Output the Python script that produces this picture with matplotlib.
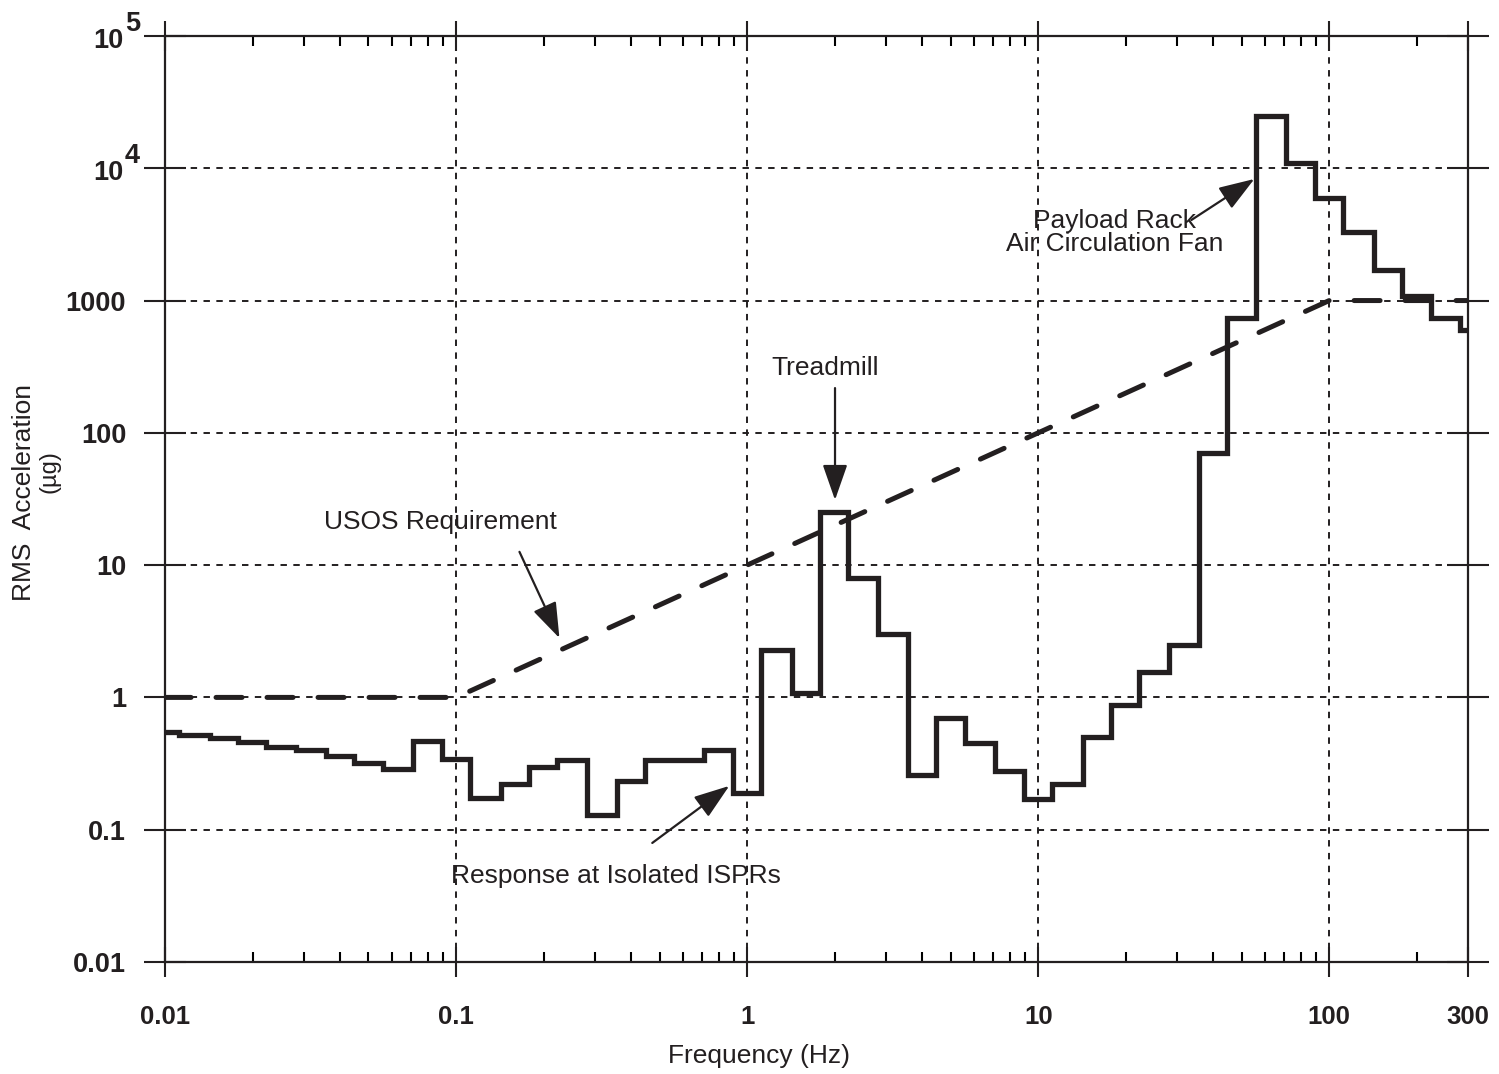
import numpy as np
import matplotlib
matplotlib.use('Agg')
import matplotlib.pyplot as plt
import matplotlib.transforms as mtransforms
from matplotlib.ticker import FixedLocator, LogLocator, NullFormatter, NullLocator

plt.rcParams['font.family'] = ['Liberation Sans', 'DejaVu Sans']

INK = '#231f20'

# one-third octave band centre frequencies (Hz)
band_centers = [0.01, 0.0125, 0.016, 0.02, 0.025, 0.0315, 0.04, 0.05, 0.063, 0.08,
                0.1, 0.125, 0.16, 0.2, 0.25, 0.315, 0.4, 0.5, 0.63, 0.8,
                1, 1.25, 1.6, 2, 2.5, 3.15, 4, 5, 6.3, 8,
                10, 12.5, 16, 20, 25, 31.5, 40, 50, 63, 80,
                100, 125, 160, 200, 250, 315]
# RMS response at isolated ISPRs (micro-g)
isolated_rms = [0.55, 0.52, 0.49, 0.46, 0.42, 0.40, 0.36, 0.32, 0.29, 0.47,
                0.34, 0.175, 0.22, 0.30, 0.335, 0.13, 0.235, 0.335, 0.335, 0.40,
                0.19, 2.3, 1.08, 25, 8.0, 3.0, 0.26, 0.70, 0.45, 0.28,
                0.17, 0.22, 0.50, 0.87, 1.55, 2.5, 70, 740, 25000, 11000,
                6000, 3300, 1700, 1080, 740, 600]

# USOS requirement curve
req_freq = [0.01, 0.1, 100, 300]
req_level = [1, 1, 1000, 1000]

xtick_vals = [0.01, 0.1, 1, 10, 100, 300]
xtick_labels = ['0.01', '0.1', '1', '10', '100', '300']
ytick_vals = [0.01, 0.1, 1, 10, 100, 1000, 1e4, 1e5]
ytick_labels = ['0.01', '0.1', '1', '10', '100', '1000', '', '']
power_ticks = [(1e4, '4'), (1e5, '5')]

centers = np.array(band_centers)
half = 10 ** 0.05
edges = np.append(centers / half, centers[-1] * half)

fig = plt.figure(figsize=(14.99, 10.74), dpi=100)
ax = fig.add_axes([0.1101, 0.1043, 0.8693, 0.8622])
ax.set_xscale('log')
ax.set_yscale('log')
ax.set_xlim(0.01, 300)
ax.set_ylim(0.01, 1e5)

ax.grid(True, which='major', color=INK, lw=1.4, linestyle=(0, (3.3, 3.3)), zorder=1)

ax.stairs(isolated_rms, edges, baseline=None, color=INK, lw=3.8, zorder=3)
ax.plot(req_freq, req_level, color=INK, lw=3.6, linestyle=(0, (5.2, 5.0)),
        dash_capstyle='round', zorder=3)

ax.xaxis.set_major_locator(FixedLocator(xtick_vals))
ax.set_xticklabels(xtick_labels)
ax.xaxis.set_minor_locator(LogLocator(base=10, subs=np.arange(2, 10), numticks=20))
ax.xaxis.set_minor_formatter(NullFormatter())
ax.yaxis.set_major_locator(FixedLocator(ytick_vals))
ax.set_yticklabels(ytick_labels)
ax.yaxis.set_minor_locator(NullLocator())

ax.tick_params(axis='x', which='major', direction='inout', length=22, width=1.5,
               top=True, bottom=True, pad=20, labelsize=18.5, colors=INK)
ax.tick_params(axis='x', which='minor', direction='in', length=7, width=1.5,
               top=True, bottom=True)
ax.tick_params(axis='y', which='major', direction='inout', length=30, width=1.5,
               left=True, right=True, pad=13, labelsize=19.5, colors=INK)
for lab in ax.get_xticklabels() + ax.get_yticklabels():
    lab.set_fontweight('bold')
for sp in ax.spines.values():
    sp.set_linewidth(1.6)
    sp.set_color(INK)

# 10^4 and 10^5 labels with a full-size raised exponent
ytrans = ax.get_yaxis_transform()
for val, exp in power_ticks:
    base_tr = mtransforms.offset_copy(ytrans, fig=fig, x=-42, y=-12, units='dots')
    ax.text(0, val, '10', transform=base_tr, ha='right', va='baseline',
            fontsize=19.5, fontweight='bold', color=INK, clip_on=False)
    exp_tr = mtransforms.offset_copy(ytrans, fig=fig, x=-40, y=5, units='dots')
    ax.text(0, val, exp, transform=exp_tr, ha='left', va='baseline',
            fontsize=19.5, fontweight='bold', color=INK, clip_on=False)

arrow = dict(arrowstyle='-|>,head_length=1.0,head_width=0.35', color=INK, lw=1.6,
             mutation_scale=22, shrinkA=0, shrinkB=0)
ax.text(0.0885, 21.2, 'USOS Requirement', fontsize=19, color=INK, ha='center', va='center')
ax.annotate('', xy=(0.2265, 2.81), xytext=(0.1651, 12.6), arrowprops=arrow)

ax.text(1.852, 309, 'Treadmill', fontsize=19, color=INK, ha='center', va='center')
ax.annotate('', xy=(2.004, 31.1), xytext=(2.004, 218), arrowprops=arrow)

ax.text(18.3, 3243, 'Payload Rack\nAir Circulation Fan', fontsize=19, color=INK,
        ha='center', va='center', linespacing=0.95)
ax.annotate('', xy=(55.3, 8300), xytext=(33.6, 4064), arrowprops=arrow)

ax.text(0.3553, 0.0447, 'Response at Isolated ISPRs', fontsize=19, color=INK,
        ha='center', va='center')
ax.annotate('', xy=(0.868, 0.2143), xytext=(0.4721, 0.0794), arrowprops=arrow)

fig.text(759 / 1499, 1 - 1056 / 1074, 'Frequency (Hz)', fontsize=19, color=INK,
         ha='center', va='center')
fig.text(24 / 1499, 1 - 492 / 1074, 'RMS  Acceleration', fontsize=19, color=INK,
         ha='center', va='center', rotation=90)
fig.text(50 / 1499, 1 - 472 / 1074, '(\u00b5g)', fontsize=17, color=INK,
         ha='center', va='center', rotation=90)

fig.savefig('out.png', dpi=100)
